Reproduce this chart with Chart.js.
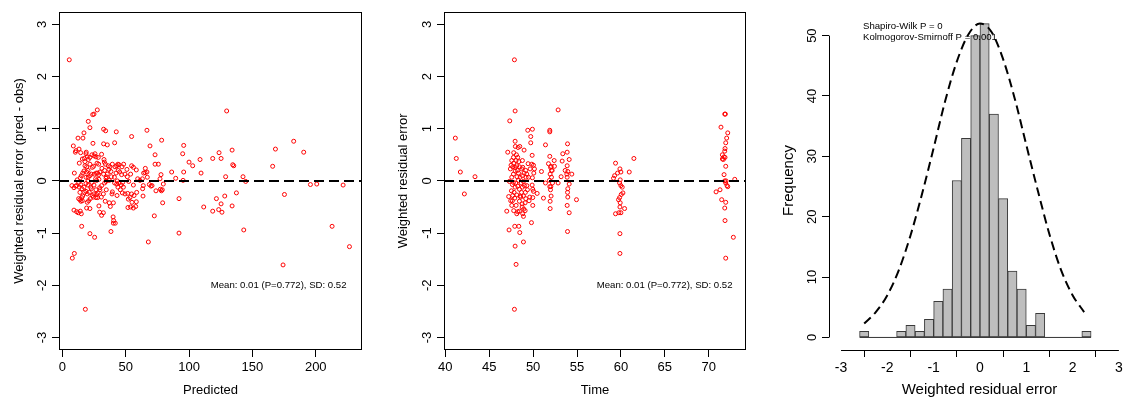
<!DOCTYPE html>
<html><head><meta charset="utf-8">
<script src="https://cdn.jsdelivr.net/npm/chart.js@4.4.1/dist/chart.umd.min.js"></script>
<style>
html,body{margin:0;padding:0;background:#fff;overflow:hidden;width:1128px;height:403px;position:relative;}
.p{position:absolute;top:0;}
canvas{display:block;}
</style></head><body>
<div class="p" style="left:0px"><canvas id="c1" width="370" height="403"></canvas></div>
<div class="p" style="left:380px"><canvas id="c2" width="370" height="403"></canvas></div>
<div class="p" style="left:750px"><canvas id="c3" width="400" height="403"></canvas></div>
<script>
// ---------- data ----------
const predicted = [
5.5,7.9,9.5,18.2,129.7,27.6,25,24,20.5,21.8,
66.8,32.6,34.2,42.6,54.7,78.4,17.1,12.4,16.3,8.7,
13.2,10.8,10.3,14.5,18.9,24.2,32.6,35.5,41.3,69.2,
73.2,95.8,95,100,102.9,108.7,118.7,123.7,125.3,134,
134.5,135.3,109.5,86.3,89.5,95.3,95.8,128.9,142.6,144.7,
166,168.2,182.6,190.5,195.8,200.8,221.6,175.3,137.4,128.2,
121.6,125.3,134,123.4,126,118.7,111.6,92.1,92.1,143.2,
174.2,212.9,226.6,67.9,72.6,79.2,38.4,40.3,41.8,40.1,
40.5,21.8,25.5,15.3,9.2,11.3,12.6,14.2,15,19.2,
21.8,29.5,31,32.4,28.9,33.9,37.1,40.3,37.9,51.8,
53.9,56.1,57.9,55,58.4,52.1,53.4,51.6,47.4,45.8,
43.2,39.5,39.2,34.7,63.7,63.4,63.9,70.8,73.9,77.4,
78.2,78.9,79.7,77.1,77.9,75.8,73.2,65.3,64.2,65.5,
66.8,67.1,63.2,68.7,70,58.4,59.5,53.9,54.7,56.1,
51,52.4,51.3,56.1,48.4,47.1,44.7,43.9,42.9,41.6,
39.5,37.6,36.8,36.3,38.4,38.7,41.1,42.4,45.3,43.4,
41.3,42.9,44.7,46.6,47.6,32.9,33.2,34,33.4,32.6,
34.7,33.4,34.5,31,27.4,28.7,27.9,28.7,28.9,26.8,
29.5,28.2,27.1,26.6,27.9,24.9,23.7,22.1,20.8,19.7,
18.7,17.6,16.1,15.3,13.9,12.9,14.7,15.8,14.5,12.9,
11.8,10.5,9.2,7.6,9.5,13.4,15.8,17.4,17.9,19.7,
20.5,19.2,20.3,21.8,20.5,18.7,16.1,15,17.1,14.2,
23.7,24.7,25,25.8,26.6,23.4,25.3,23.4,22.4,20.3,
18.7,20.3,25,26.6,22.9,29.7,34.5,22.9,26.3,31.3,
29.7,35.5,37.1,43.9,48.2,49.5,46.8,19.7,21.3,17.1,
15.5,13.9,13.4,11.3,24.5,32.4,30.8,31,27.1,19.2,
17.9,21.8,21.8,18.7,28.4,61.3,58.7,54.7,49.5,56.6,
44.2];
const residualPred = [
2.32,-1.48,-1.39,-2.46,1.34,1.36,1.28,1.27,1.14,1.02,
0.97,0.99,0.96,0.94,0.85,0.78,0.92,0.82,0.82,0.67,
0.61,0.58,0.55,0.54,0.55,0.72,0.71,0.69,0.73,0.67,
0.5,0.68,0.52,0.36,0.29,0.41,0.43,0.54,0.43,0.59,
0.31,0.29,0.15,0.17,0.05,0.01,0.17,0.08,0.08,-0.01,
0.28,0.61,0.76,0.55,-0.07,-0.06,-0.08,-0.26,-0.23,-0.29,
-0.34,-0.44,-0.48,-0.55,-0.6,-0.58,-0.5,-0.34,-1.0,-0.94,
-1.61,-0.87,-1.26,-1.17,-0.67,-0.42,-0.97,-0.81,-0.81,-0.69,
-0.76,-1.01,-1.08,-0.87,-0.56,-0.59,-0.61,-0.58,-0.63,-0.52,
-0.53,-0.6,-0.66,-0.61,-0.48,-0.39,-0.42,-0.42,-0.49,-0.51,
-0.5,-0.52,-0.49,-0.41,-0.4,-0.35,-0.32,-0.24,-0.23,-0.17,
-0.28,-0.21,-0.25,-0.17,-0.29,-0.15,-0.09,-0.09,-0.19,-0.16,
-0.19,-0.17,-0.06,0.04,0.12,0.32,0.32,0.16,0.15,0.24,
0.17,0.07,0.04,-0.07,-0.1,0.21,0.04,0.13,0.29,0.26,
0.22,-0.01,0.08,-0.08,0.32,0.27,0.31,0.32,0.29,0.27,
0.32,0.27,0.22,0.29,0.18,0.08,0.07,0.15,0.17,0,
-0.04,-0.06,-0.04,-0.08,-0.03,0.41,0.36,0.32,0.2,0.13,
0.08,-0.04,-0.01,0.51,0.34,0.32,0.15,0.12,0.03,0.15,
-0.13,-0.23,-0.26,-0.32,-0.32,-0.25,-0.28,-0.34,-0.38,-0.41,
-0.2,-0.22,-0.29,-0.32,-0.36,-0.34,-0.39,-0.38,-0.07,-0.03,
0.02,-0.1,-0.13,-0.09,0.15,0.34,0.42,0.43,0.37,0.46,
0.41,0.27,0.2,0.1,0.07,0.07,0.15,0.1,0.19,0.06,
0.26,0.28,0.48,0.52,0.46,0.5,0.13,-0.03,-0.12,-0.08,
-0.05,0,-0.08,-0.17,-0.15,-0.17,0.05,0.13,0.04,0.24,
0.17,0.13,0.01,-0.12,-0.12,0.13,0.12,-0.25,-0.22,-0.12,
-0.15,-0.22,-0.12,-0.09,-0.31,-0.25,-0.31,-0.09,0.01,0.17,
0.29,0.32,0.45,0.52,0.45,0.01,-0.22,-0.25,-0.25,-0.28,
0.2];
const time = [
41.14,41.25,41.71,42.17,43.38,47.87,47.95,47.34,52.85,49.39,
49.92,49.73,49.73,51.41,51.9,51.9,53.92,53.88,53.38,53.31,
54.11,54.41,54.94,54.11,53.92,53.88,53.95,53.92,53.95,54.11,
53.88,53.84,53.95,53.88,53.65,53.19,52.85,52.4,52.43,51.9,
51.75,52.05,52.09,51.94,51.86,51.9,51.98,52.05,51.94,51.94,
51.41,50.95,51.18,50.46,49.89,49.85,50.04,50.15,50.08,49.92,
49.89,49.96,49.96,49.96,49.81,49.62,49.43,48.97,48.9,48.48,
48.37,47.91,47.95,48.06,47.87,47.26,47,47.11,47.57,47.79,
48.25,48.44,48.82,48.9,48.94,48.75,49.09,49.16,48.9,48.67,
49.12,48.78,49.01,48.9,48.78,48.97,49.28,48.71,48.44,48.37,
48.25,48.48,48.29,47.95,47.98,47.79,48.1,48.06,47.79,47.68,
47.49,47.95,47.76,48.17,48.33,47.41,47.3,47.64,48.02,48.25,
47.53,47.83,48.14,47.91,47.64,48.44,48.52,48.44,48.63,48.52,
48.14,47.76,47.45,47.22,47.57,49.28,49.47,50.04,49.66,51.98,
52.17,52.09,52.21,52.02,59.39,59.16,59.28,59.62,59.89,60,
59.92,59.85,60,60.15,60.23,60.04,59.73,59.85,59.92,59.89,
60.42,60,59.77,59.39,59.89,59.89,60.95,61.48,71.83,71.9,
71.4,72.17,72.05,71.94,71.86,71.83,71.56,71.75,71.86,71.67,
71.56,71.94,71.75,71.83,71.94,72.09,71.98,72.17,72.97,70.84,
71.29,71.48,71.94,71.83,71.86,72.81,71.94,47.57,47.95,48.33,
48.59,48.06,48.75,49.09,47.76,48.21,47.95,47.68,48.14,48.78,
49.16,49.2,49.35,49.54,48.82];
const residualTime = [
0.82,0.43,0.17,-0.25,0.08,2.32,1.34,1.15,1.36,0.97,
0.99,0.85,0.73,0.69,0.97,0.94,0.71,0.55,0.52,0.38,
0.41,0.13,-0.36,-0.61,-0.97,-0.47,-0.31,-0.22,-0.15,-0.06,
0.07,0.13,0.18,0.29,0.2,0.08,-0.04,0.39,0.28,0.47,
0.33,0.28,0.2,0.13,0.01,-0.11,-0.17,-0.29,-0.39,-0.53,
-0.04,0.18,-0.33,-0.24,0.49,0.32,0.3,0.23,0.15,0.06,
-0.08,-0.16,-0.32,-0.47,-0.8,-0.31,0.33,0.59,-1.17,-0.99,
-0.87,-0.87,-1.25,-1.6,-2.46,-0.94,-0.58,0.55,-0.47,-0.57,
-0.59,-0.58,-0.63,-0.68,-0.54,-0.44,-0.42,-0.34,-0.29,-0.22,
-0.22,-0.12,-0.09,-0.01,0.1,0.15,0.13,0.23,0.27,0.37,
0.45,0.66,0.64,0.76,0.66,0.54,0.5,0.39,0.34,0.27,
0.3,0.19,0.13,0.08,0.15,0.23,-0.01,-0.07,-0.04,-0.1,
-0.19,-0.22,-0.27,-0.33,-0.38,-0.39,-0.29,-0.16,-0.04,0.07,
0.29,0.45,-0.38,-0.3,0.07,-0.09,0.07,-0.2,0.23,0.26,
0.2,0.07,-0.04,-0.11,0.34,0.05,0.1,0.15,0.23,0.17,
0.02,-0.04,-0.09,-0.12,-0.23,-0.26,-0.36,-0.32,-0.42,-0.5,
-0.53,-0.61,-0.61,-0.63,-1.01,-1.39,0.17,0.43,1.28,1.28,
1.03,0.92,0.82,0.73,0.62,0.57,0.5,0.46,0.45,0.41,
0.42,0.28,0.12,0,-0.04,-0.09,0,-0.11,0.03,-0.21,
-0.17,-0.36,-0.41,-0.52,-0.76,-1.08,-1.48,0.39,-0.12,0.01,
-0.31,-0.47,-0.5,-0.57,-0.03,0.2,0.26,-0.28,-0.63,0.39,
0.2,0.07,-0.17,-0.38,0.26];
const binEdges = [-2.6,-2.4,-2.2,-2.0,-1.8,-1.6,-1.4,-1.2,-1.0,-0.8,-0.6,-0.4,-0.2,0,0.2,0.4,0.6,0.8,1.0,1.2,1.4,1.6,1.8,2.0,2.2,2.4];
const binCounts = [1,0,0,0,1,2,1,3,6,8,26,33,50,52,37,23,11,8,2,4,0,0,0,0,1];
const curveX = [-2.5,-2.25,-2,-1.75,-1.5,-1.25,-1,-0.75,-0.5,-0.25,0,0.25,0.5,0.75,1,1.25,1.5,1.75,2,2.25];
const curveY = [2.3,4.2,7.0,11.2,16.9,23.8,31.4,39.2,45.7,50.2,52.0,50.6,46.1,39.6,31.9,24.3,17.1,11.2,7.0,4.2];
const residTicks = [-3,-2,-1,0,1,2,3];
const predTicks = [0,50,100,150,200];
const timeTicks = [40,45,50,55,60,65,70];
const histTicks = [-3,-2,-1,0,1,2,3];
const freqTicks = [0,10,20,30,40,50];
const statText = 'Mean: 0.01 (P=0.772), SD: 0.52';
const normText = ['Shapiro-Wilk P = 0', 'Kolmogorov-Smirnoff P = 0.001'];

// ---------- helpers ----------
const FAM = "'Liberation Sans', Arial, Helvetica, sans-serif";
Chart.defaults.font.family = FAM;
Chart.defaults.color = '#000';
Chart.defaults.animation = false;

const rPlugin = {
  id: 'rstyle',
  afterDraw(chart, args, o) {
    const {ctx, chartArea: a, scales} = chart;
    ctx.save();
    ctx.strokeStyle = '#000';
    ctx.lineWidth = 1;
    if (o.box) {
      ctx.strokeRect(Math.round(a.left) + 0.5, Math.round(a.top) + 0.5,
        Math.round(a.right - a.left) - 1, Math.round(a.bottom - a.top) - 1);
    }
    if (o.axisLines) {
      const xs = scales.x, ys = scales.y;
      const xt = o.axisLines.x, yt = o.axisLines.y;
      const yb = Math.round(a.bottom) + 0.5;
      ctx.beginPath();
      ctx.moveTo(xs.getPixelForValue(xt[0]), yb);
      ctx.lineTo(xs.getPixelForValue(xt[xt.length - 1]), yb);
      const xl = Math.round(a.left) + 0.5;
      ctx.moveTo(xl, ys.getPixelForValue(yt[0]));
      ctx.lineTo(xl, ys.getPixelForValue(yt[yt.length - 1]));
      ctx.stroke();
    }
    if (o.notes) {
      ctx.fillStyle = '#000';
      for (const n of o.notes) {
        ctx.font = n.size + 'px ' + FAM;
        ctx.textAlign = n.align;
        ctx.textBaseline = 'middle';
        const x = n.align === 'right' ? a.right - n.inset : a.left + n.inset;
        const y = n.yPix !== undefined ? n.yPix : scales.y.getPixelForValue(n.yVal);
        ctx.fillText(n.text, x, y);
      }
    }
    ctx.restore();
  }
};

function fixedTicks(arr) { return s => { s.ticks = arr.map(v => ({value: v})); }; }

function xAxis(min, max, ticks, title, h, fs, tfs, tpad) {
  return {
    type: 'linear', position: 'bottom', min, max, offset: false,
    afterBuildTicks: fixedTicks(ticks),
    afterFit: s => { s.height = h; },
    grid: {display: true, drawOnChartArea: false, drawTicks: true, tickLength: 7, color: '#000', tickColor: '#000', lineWidth: 1},
    border: {display: false},
    ticks: {autoSkip: false, maxRotation: 0, minRotation: 0, padding: 3, color: '#000', font: {size: fs}},
    title: {display: true, text: title, color: '#000', font: {size: tfs}, padding: {top: 0, bottom: tpad}}
  };
}
function yAxis(min, max, ticks, title, w, fs, tfs, tickPad, titlePad) {
  return {
    type: 'linear', position: 'left', min, max,
    afterBuildTicks: fixedTicks(ticks),
    afterFit: s => { s.width = w; },
    grid: {display: true, drawOnChartArea: false, drawTicks: true, tickLength: 7, color: '#000', tickColor: '#000', lineWidth: 1},
    border: {display: false},
    ticks: {autoSkip: false, minRotation: 90, maxRotation: 90, crossAlign: 'center', padding: tickPad, color: '#000', font: {size: fs}},
    title: {display: true, text: title, color: '#000', font: {size: tfs}, padding: {top: titlePad, bottom: 0}}
  };
}

function residualChart(id, xs, ys, xMin, xMax, xTicks, xTitle, yTitle, pad, yW, yTitlePad, noteInset) {
  const pts = xs.map((x, i) => ({x, y: ys[i]}));
  return new Chart(document.getElementById(id), {
    type: 'scatter',
    data: {datasets: [
      {type: 'line', data: [{x: xMin, y: 0}, {x: xMax, y: 0}], borderColor: '#000', borderWidth: 2,
       borderDash: [10, 5], pointRadius: 0, order: 0, tension: 0},
      {type: 'scatter', data: pts, borderColor: '#ff0000', backgroundColor: 'rgba(0,0,0,0)',
       pointRadius: 2, pointBorderWidth: 1, pointHoverRadius: 2, order: 1}
    ]},
    options: {
      responsive: false, animation: false,
      layout: {padding: pad},
      plugins: {legend: {display: false}, tooltip: {enabled: false},
        rstyle: {box: true, notes: [{text: statText, size: 9.6, align: 'right', inset: noteInset, yVal: -2}]}},
      scales: {
        x: xAxis(xMin, xMax, xTicks, xTitle, 53, 13, 13, 5),
        y: yAxis(-3.24, 3.24, residTicks, yTitle, yW, 13, 13, 4, yTitlePad)
      }
    },
    plugins: [rPlugin]
  });
}

residualChart('c1', predicted, residualPred, -2.6, 236.5, predTicks, 'Predicted',
  'Weighted residual error (pred - obs)', {top: 11, right: 8, bottom: 0, left: 0}, 59, 12, 15.5);
residualChart('c2', time, residualTime, 39.85, 74.25, timeTicks, 'Time',
  'Weighted residual error', {top: 11, right: 4, bottom: 0, left: 0}, 64, 16, 13.5);

// histogram
const barPts = binCounts.map((c, i) => ({x: (binEdges[i] + binEdges[i + 1]) / 2, y: c}));
const curvePts = curveX.map((x, i) => ({x, y: curveY[i]}));
new Chart(document.getElementById('c3'), {
  type: 'bar',
  data: {datasets: [
    {type: 'line', data: curvePts, borderColor: '#000', borderWidth: 2, borderDash: [9, 5],
     pointRadius: 0, cubicInterpolationMode: 'monotone', order: 0, clip: false},
    {type: 'line', data: [{x: binEdges[0], y: 0}, {x: binEdges[binEdges.length - 1], y: 0}],
     borderColor: '#333', borderWidth: 1, pointRadius: 0, order: 1},
    {type: 'bar', data: barPts, backgroundColor: '#bebebe', borderColor: '#3a3a3a', borderWidth: 1,
     borderSkipped: false, barPercentage: 1, categoryPercentage: 1, grouped: false, order: 2}
  ]},
  options: {
    responsive: false, animation: false,
    layout: {padding: {top: 11, right: 20, bottom: 0, left: 0}},
    plugins: {legend: {display: false}, tooltip: {enabled: false},
      rstyle: {box: false, axisLines: {x: histTicks, y: freqTicks},
        notes: [{text: normText[0], size: 9.6, align: 'left', inset: 34, yPix: 26},
                {text: normText[1], size: 9.6, align: 'left', inset: 34, yPix: 37.5}]}},
    scales: {
      x: xAxis(-3.26, 3.24, histTicks, 'Weighted residual error', 53, 14, 15, 4),
      y: yAxis(-2.08, 54.08, freqTicks, 'Frequency', 79, 13, 15, 2, 30)
    }
  },
  plugins: [rPlugin]
});
</script>
</body></html>
